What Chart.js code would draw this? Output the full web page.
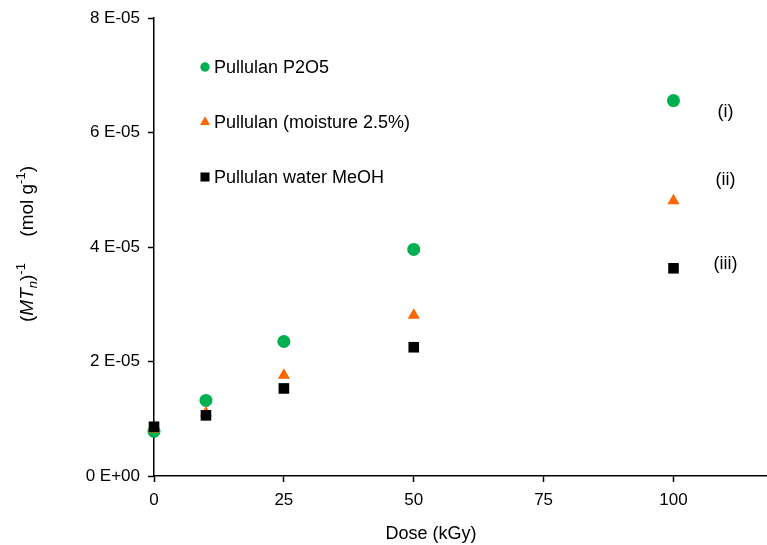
<!DOCTYPE html>
<html>
<head>
<meta charset="utf-8">
<script src="https://cdn.jsdelivr.net/npm/chart.js@4"></script>
<style>
  html, body { margin: 0; padding: 0; background: #fff; }
  #wrap { width: 767px; height: 545px; }
</style>
</head>
<body>
<div id="wrap"><canvas id="myChart" width="767" height="545"></canvas></div>
<script>
// datos
const doses = [0, 10, 25, 50, 100];
const p2o5 = [7.8e-6, 1.32e-5, 2.35e-5, 3.96e-5, 6.56e-5];
const moisture = [8.2e-6, 1.10e-5, 1.76e-5, 2.81e-5, 4.81e-5];
const waterMeoh = [8.6e-6, 1.06e-5, 1.53e-5, 2.25e-5, 3.63e-5];
const seriesNames = ['Pullulan P2O5', 'Pullulan (moisture 2.5%)', 'Pullulan water MeOH'];
const xTicks = [0, 25, 50, 75, 100];
const yTicks = [0, 2e-5, 4e-5, 6e-5, 8e-5];
const curveTags = ['(i)', '(ii)', '(iii)'];
const xTitle = 'Dose (kGy)';

const FONT = "'Liberation Sans', Arial, sans-serif";
const colors = ['#00b050', '#ff6600', '#000000'];
const styles = ['circle', 'triangle', 'rect'];

const toPts = ys => doses.map((d, i) => ({ x: d, y: ys[i] }));

// E-notation like the original: 2 E-05
function fmtE(v) {
  const [m, e] = v.toExponential(0).split('e');
  const sign = e[0] === '-' ? '-' : '+';
  const ex = Math.abs(parseInt(e, 10)).toString().padStart(2, '0');
  return m + ' E' + sign + ex;
}

// leyenda, etiquetas y titulos dibujados a mano
const extras = {
  id: 'extras',
  afterDraw(chart) {
    const c = chart.ctx;
    const xs = chart.scales.x, ys = chart.scales.y;
    c.save();

    // legend inside the plot
    const legY = [67, 122, 177];
    const legR = [4.7, 5.8, 6.4];
    c.font = '18px ' + FONT;
    c.textBaseline = 'middle';
    c.textAlign = 'left';
    seriesNames.forEach((name, i) => {
      c.fillStyle = colors[i];
      Chart.helpers.drawPoint(c, { pointStyle: styles[i], radius: legR[i], rotation: 0, borderWidth: 0 }, 205, legY[i]);
      c.fillStyle = '#000';
      c.fillText(name, 214, legY[i] + 1);
    });

    // (i) (ii) (iii)
    const tagAt = [[110, 6.36e-5], [110, 5.18e-5], [110, 3.71e-5]];
    c.font = '18px ' + FONT;
    c.textAlign = 'center';
    curveTags.forEach((t, i) => {
      c.fillText(t, xs.getPixelForValue(tagAt[i][0]), ys.getPixelForValue(tagAt[i][1]));
    });

    // x title
    c.font = '18px ' + FONT;
    c.fillText(xTitle, 431, 534);

    // y title with sub/superscripts
    const parts = [
      { t: '(', k: 'n' }, { t: 'MT', k: 'i' }, { t: 'n', k: 'sub' }, { t: ')', k: 'n' },
      { t: '-1', k: 'sup' }, { t: '     (mol g', k: 'n' }, { t: '-1', k: 'sup' }, { t: ')', k: 'n' }
    ];
    const fontOf = k => k === 'i' ? 'italic 19px ' + FONT
      : k === 'sub' ? 'italic 13px ' + FONT
      : k === 'sup' ? '13px ' + FONT : '19px ' + FONT;
    let total = 0;
    parts.forEach(p => { c.font = fontOf(p.k); p.w = c.measureText(p.t).width; total += p.w; });
    c.translate(33, 244);
    c.rotate(-Math.PI / 2);
    c.textAlign = 'left';
    c.textBaseline = 'alphabetic';
    let x = -total / 2;
    parts.forEach(p => {
      c.font = fontOf(p.k);
      const dy = p.k === 'sub' ? 4 : p.k === 'sup' ? -8 : 0;
      c.fillText(p.t, x, dy);
      x += p.w;
    });
    c.restore();
  }
};

const axisCommon = {
  border: { color: '#000', width: 1.5 },
  grid: { drawOnChartArea: false, drawTicks: true, tickLength: 6, tickWidth: 1.5, tickColor: '#000' },
  ticks: { color: '#000', font: { family: FONT, size: 17 }, padding: 8 }
};

new Chart(document.getElementById('myChart'), {
  type: 'scatter',
  data: {
    datasets: [
      { label: seriesNames[0], data: toPts(p2o5), pointStyle: 'circle', pointRadius: 6.5,
        backgroundColor: colors[0], borderWidth: 0, order: 3, clip: false },
      { label: seriesNames[1], data: toPts(moisture), pointStyle: 'triangle', pointRadius: 7,
        backgroundColor: colors[1], borderWidth: 0, order: 2, clip: false },
      { label: seriesNames[2], data: toPts(waterMeoh), pointStyle: 'rect', pointRadius: 7.5,
        backgroundColor: colors[2], borderWidth: 0, order: 1, clip: false }
    ]
  },
  options: {
    responsive: false,
    animation: false,
    devicePixelRatio: 1,
    layout: { autoPadding: false, padding: { top: 17, left: 0, right: 0, bottom: 0 } },
    plugins: { legend: { display: false }, tooltip: { enabled: false } },
    scales: {
      x: {
        ...axisCommon,
        min: 0, max: 118,
        afterBuildTicks: s => { s.ticks = xTicks.map(v => ({ value: v })); },
        afterFit: s => { s.height = 69; },
        ticks: { ...axisCommon.ticks, maxRotation: 0 }
      },
      y: {
        ...axisCommon,
        min: 0, max: 8e-5,
        afterBuildTicks: s => { s.ticks = yTicks.map(v => ({ value: v })); },
        afterFit: s => { s.width = 154; },
        ticks: { ...axisCommon.ticks, callback: v => fmtE(v) }
      }
    }
  },
  plugins: [extras]
});
</script>
</body>
</html>
